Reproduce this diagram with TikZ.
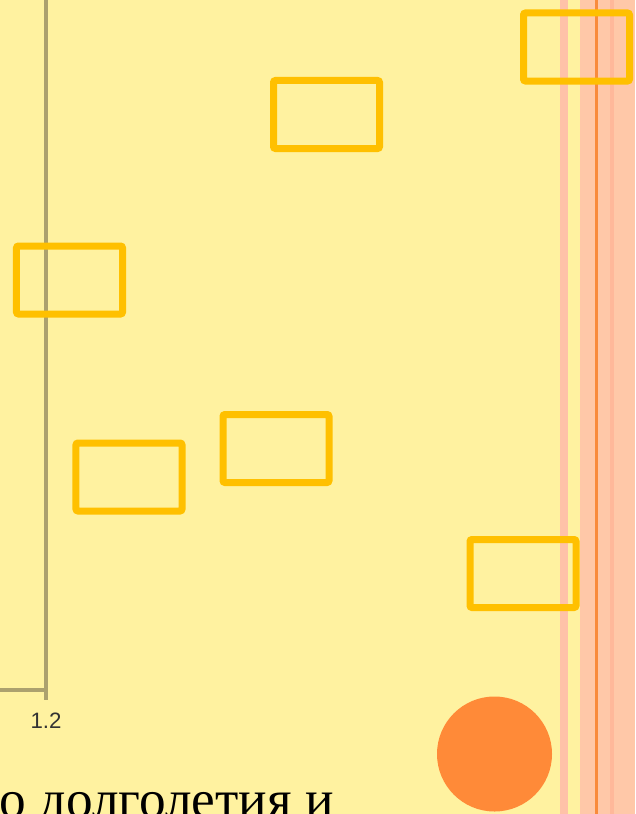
\documentclass[tikz,border=0pt]{standalone}
\usepackage{fontspec}
\setmainfont{Liberation Serif}
\newfontfamily\labelfont{Liberation Sans}
\usetikzlibrary{positioning}
\definecolor{SlideYellow}{HTML}{FFF2A0}
\definecolor{FrameGold}{HTML}{FFC000}
\definecolor{StripePink}{HTML}{FFC2A8}
\definecolor{StripePeach}{HTML}{FFC8A8}
\definecolor{StripeSalmon}{HTML}{FFB89A}
\definecolor{LineOrange}{HTML}{F98B3C}
\definecolor{DotOrange}{HTML}{FF8A38}
\definecolor{AxisGray}{HTML}{ACA16E}

\begin{document}
\begin{tikzpicture}[
    x=0.03cm, y=-0.03cm,
    frame/.style={draw=FrameGold, line width=0.21cm, rounded corners=0.6mm, minimum width=3.18cm, minimum height=2.04cm, inner sep=0pt},
    axis/.style={draw=AxisGray, line width=0.12cm},
    stripe/.style={fill=#1, draw=none}
]
% 背景与裁切
\useasboundingbox (0,0) rectangle (635,814);
\clip (0,0) rectangle (635,814);
\fill[SlideYellow] (0,0) rectangle (635,814);

% 右侧装饰条
\fill[stripe=StripePink] (560,0) rectangle (568,814);
\fill[stripe=StripePeach] (580,0) rectangle (635,814);
\fill[stripe=LineOrange] (595,0) rectangle (597.5,814);
\fill[stripe=StripeSalmon] (610,0) rectangle (614,814);

% 坐标轴残段
\draw[axis] (46,-5) -- (46,700);
\draw[axis] (-5,690) -- (46,690);
\node[font=\labelfont\fontsize{19}{22}\selectfont, text=black!80] (tick) at (46,721) {1.2};

% 方框
\node[frame] (boxA) at (576.5,47) {};
\node[frame] (boxB) at (326.5,114.5) {};
\node[frame] (boxC) at (69.5,280) {};
\node[frame] (boxD) at (129,477) {};
\node[frame] (boxE) at (276,448.5) {};
\node[frame] (boxF) at (523,573.5) {};

% 圆点与底部文字
\node[circle, fill=DotOrange, minimum size=3.45cm, inner sep=0pt] (dot) at (494.5,754) {};
\node[anchor=base west, inner sep=0pt, font=\fontsize{45.5}{50}\selectfont] (caption) at (-1,817) {о долголетия и};
\end{tikzpicture}
\end{document}
